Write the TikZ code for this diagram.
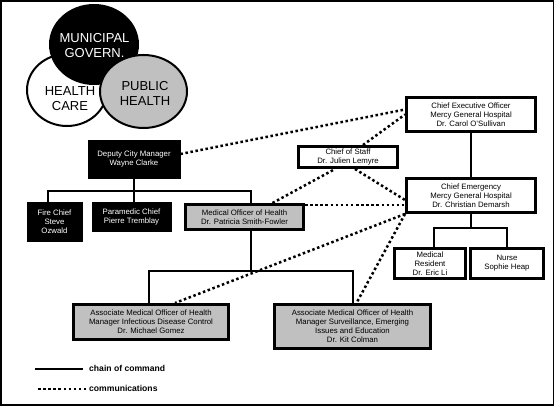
\documentclass[tikz,border=0pt]{standalone}
\usepackage{fontspec}
\setmainfont{Liberation Sans}
\usepackage{tikz}
\usetikzlibrary{positioning}

\definecolor{mohgray}{RGB}{192,192,192}
\newcommand{\orgfont}{\fontsize{7.8}{9}\selectfont}
\newcommand{\venfont}{\fontsize{13}{15.5}\selectfont}

\tikzset{
  blackbox/.style={draw=black, fill=black, text=white, line width=0.8pt,
    inner sep=0pt, align=center, font=\orgfont},
  whitebox/.style={draw=black, fill=white, line width=3pt,
    inner sep=0pt, align=center, font=\orgfont},
  greybox/.style={whitebox, fill=mohgray},
  cmd/.style={line width=2pt},
  comm/.style={line width=2.5pt, dash pattern=on 2.5pt off 2.6pt},
  legendtext/.style={anchor=west, inner sep=0pt, font=\fontsize{8.6}{10}\selectfont\bfseries},
}

\begin{document}
\begin{tikzpicture}[x=1pt, y=-1pt]
        % Cadre
        \useasboundingbox (0,0) rectangle (555,406);
        \fill[white] (0,0) rectangle (555,406);
        \draw[line width=1.6pt] (0.8,0.8) rectangle (553.4,404.8);

        % Cercles
        \draw[line width=2pt, fill=white] (67,90) ellipse [x radius=40pt, y radius=36pt];
        \node[font=\venfont, align=center, inner sep=0pt] (care) at (70,98.5) {HEALTH\\CARE};
        \draw[line width=2pt, fill=black] (94,44.5) ellipse [x radius=44pt, y radius=39.5pt];
        \node[font=\venfont, text=white, align=center, inner sep=0pt] (govern) at (94.5,45.5) {MUNICIPAL\\GOVERN.};
        \draw[line width=2pt, fill=mohgray] (143.5,91.5) ellipse [x radius=43.5pt, y radius=36.5pt];
        \node[font=\venfont, align=center, inner sep=0pt] (public) at (145,93.5) {PUBLIC\\HEALTH};

        % Ville
        \node[blackbox, minimum width=92pt, minimum height=38pt] (deputy) at (134,159) {Deputy City Manager\\Wayne Clarke};
        \node[blackbox, minimum width=55pt, minimum height=39pt] (fire) at (54.5,221.5) {Fire Chief\\Steve\\Ozwald};
        \node[blackbox, minimum width=79pt, minimum height=29pt] (paramedic) at (131.5,216.5) {Paramedic Chief\\Pierre Tremblay};
        \node[greybox, minimum width=118pt, minimum height=25pt] (moh) at (244.5,217) {Medical Officer of Health\\Dr. Patricia Smith-Fowler};
        \node[greybox, minimum width=155pt, minimum height=35pt] (ama) at (151,322) {Associate Medical Officer of Health\\Manager Infectious Disease Control\\Dr. Michael Gomez};
        \node[greybox, minimum width=156pt, minimum height=44pt] (amb) at (352.5,326.5) {Associate Medical Officer of Health\\Manager Surveillance, Emerging\\Issues and Education\\Dr. Kit Colman};

        % Hopital
        \node[whitebox, minimum width=129pt, minimum height=34pt] (ceo) at (471,114.5) {Chief Executive Officer\\Mercy General Hospital\\Dr. Carol O'Sullivan};
        \node[whitebox, minimum width=99pt, minimum height=21pt] (cos) at (348,157) {Chief of Staff\\Dr. Julien Lemyre};
        \node[whitebox, minimum width=129pt, minimum height=34pt] (emerg) at (471,195.5) {Chief Emergency\\Mercy General Hospital\\Dr. Christian Demarsh};
        \node[whitebox, minimum width=71pt, minimum height=30pt] (resident) at (430,263.5) {Medical\\Resident\\Dr. Eric Li};
        \node[whitebox, minimum width=73pt, minimum height=30pt] (nurse) at (507,263.5) {Nurse\\Sophie Heap};

        % Chaine de commandement
        \coordinate (dBus) at (134,191);
        \coordinate (mBus) at (251,271);
        \coordinate (eBus) at (471,228);
        \draw[cmd] (deputy.south) -- (deputy.south |- paramedic.north);
        \draw[cmd] ([xshift=-6.5pt]fire.north) |- (dBus) -| ([xshift=6.5pt]moh.north);
        \draw[cmd] ([xshift=6.5pt]moh.south) -- (mBus);
        \draw[cmd] ([xshift=-2pt]ama.north) |- (mBus) -| (amb.north);
        \draw[cmd] (ceo.south) -- (emerg.north);
        \draw[cmd] (emerg.south) -- (eBus);
        \draw[cmd] ([xshift=4pt]resident.north) |- (eBus) -| (nurse.north);

        % Communications
        \coordinate (mohR) at ([yshift=12pt]moh.east);
        \draw[comm] ([yshift=5pt]deputy.east) -- ([yshift=5pt]ceo.west);
        \draw[comm] ([xshift=15pt]cos.north) -- (ceo.west);
        \draw[comm] ([xshift=28pt]moh.north) -- ([xshift=-13pt]cos.south);
        \draw[comm] ([xshift=7pt]cos.south) -- ([yshift=-4.5pt]emerg.west);
        \draw[comm] (mohR) -- (mohR -| emerg.west);
        \draw[comm] (emerg.south west) -- ([xshift=24pt]ama.north);
        \draw[comm] (emerg.south west) -- ([xshift=4pt]amb.north);

        % Legende
        \coordinate (chainA) at (35,369);
        \coordinate (chainB) at (83,369);
        \coordinate (commA) at (38,389);
        \coordinate (commB) at (87,389);
        \draw[cmd] (chainA) -- (chainB);
        \draw[comm] (commA) -- (commB);
        \node[legendtext] (chain) at (89,368.5) {chain of command};
        \node[legendtext] (comms) at (89,388.5) {communications};
    \end{tikzpicture}
\end{document}
